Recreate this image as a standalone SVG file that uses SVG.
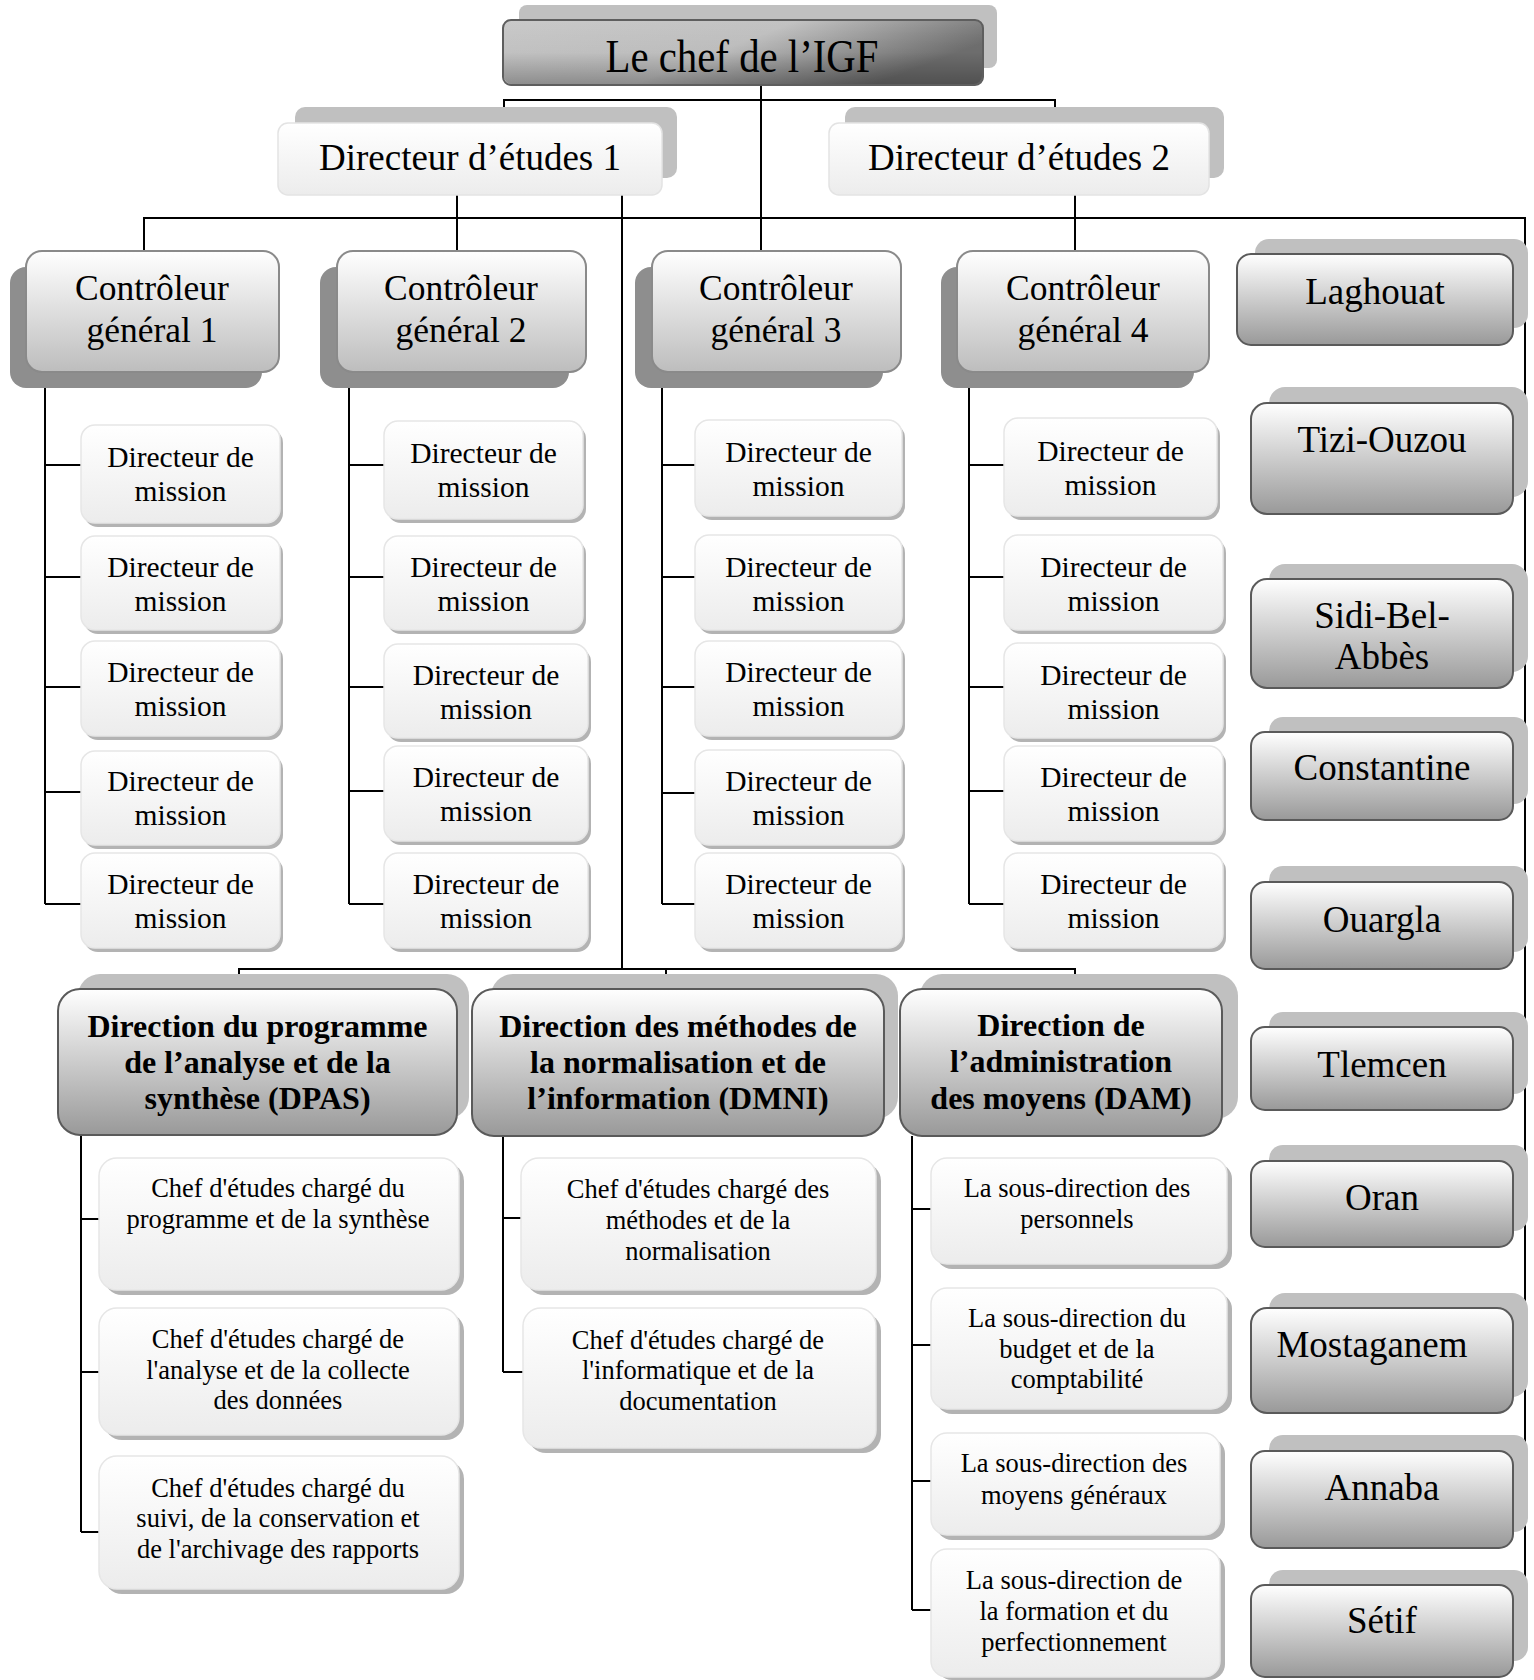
<svg xmlns="http://www.w3.org/2000/svg" width="1534" height="1680" viewBox="0 0 1534 1680">
<defs>
<linearGradient id="gTop" x1="0" y1="0" x2="1" y2="0.35">
<stop offset="0" stop-color="#c9c9c9"/><stop offset="0.55" stop-color="#c2c2c2"/><stop offset="1" stop-color="#707070"/>
</linearGradient>
<linearGradient id="gTopV" x1="0" y1="0" x2="0" y2="1">
<stop offset="0" stop-color="#000" stop-opacity="0"/><stop offset="0.5" stop-color="#000" stop-opacity="0.03"/><stop offset="1" stop-color="#000" stop-opacity="0.28"/>
</linearGradient>
<linearGradient id="gLight" x1="0" y1="0" x2="0" y2="1">
<stop offset="0" stop-color="#ffffff"/><stop offset="1" stop-color="#ececec"/>
</linearGradient>
<linearGradient id="gCG" x1="0" y1="0" x2="0" y2="1">
<stop offset="0" stop-color="#ffffff"/><stop offset="1" stop-color="#bdbdbd"/>
</linearGradient>
<linearGradient id="gDark" x1="0" y1="0" x2="0" y2="1">
<stop offset="0" stop-color="#ffffff"/><stop offset="1" stop-color="#999999"/>
</linearGradient>
<style>
.t{font-family:"Liberation Serif","Times New Roman",serif;fill:#000;text-anchor:middle}
.b{font-weight:bold}
.f47{font-size:47px}.f37{font-size:37px}.f36{font-size:35.5px}.f32{font-size:32px}.f29{font-size:29.5px}.f26{font-size:26.5px}
.top{fill:url(#gTop);stroke:#5e5e5e;stroke-width:2}
.topo{fill:url(#gTopV)}
.shL{fill:#c0c0c0}
.shD{fill:#8e8e8e}
.shS{fill:#b3b3b3}
.de{fill:url(#gLight);stroke:#e3e3e3;stroke-width:1.5}
.cg{fill:url(#gCG);stroke:#8a8a8a;stroke-width:2}
.dk{fill:url(#gDark);stroke:#5a5a5a;stroke-width:2}
.lt{fill:url(#gLight);stroke:#e6e6e6;stroke-width:1.5}
.c{fill:none;stroke:#000;stroke-width:2}
</style>
</defs>
<rect width="1534" height="1680" fill="#fff"/>

<g id="connectors">
<path class="c" d="M761 85V251M504 123V100H1055V123"/>
<path class="c" d="M457 195V251M622 195V969M1075 195V251"/>
<path class="c" d="M144 251V218H1525V1629"/>
<path class="c" d="M45 372V904M45 465H81M45 577H81M45 687H81M45 792H81M45 904H81"/>
<path class="c" d="M349 373V904M349 465H384M349 577H384M349 687H384M349 791H384M349 904H384"/>
<path class="c" d="M662 373V904M662 465H695M662 577H695M662 687H695M662 793H695M662 904H695"/>
<path class="c" d="M969 373V904M969 465H1004M969 577H1004M969 687H1004M969 791H1004M969 904H1004"/>
<path class="c" d="M239 989V969H1075V989M666 969V989"/>
<path class="c" d="M81 1135V1532M81 1219H99M81 1372H99M81 1532H99"/>
<path class="c" d="M503 1136V1372M503 1218H521M503 1372H523"/>
<path class="c" d="M912 1136V1610M912 1209H931M912 1345H931M912 1481H931M912 1610H931"/>
<path class="c" d="M1513 293H1525M1513 451H1525M1513 627H1525M1513 775H1525M1513 921H1525M1513 1065H1525M1513 1195H1525M1513 1357H1525M1513 1492H1525M1513 1629H1525"/>
</g>

<g id="chef">
<rect class="shL" x="519" y="5" width="478" height="63" rx="8"/>
<rect class="top" x="503" y="20" width="480" height="65" rx="8"/>
<rect class="topo" x="504" y="21" width="478" height="63" rx="8"/>
<text class="t f47" x="742" y="72" textLength="273" lengthAdjust="spacingAndGlyphs">Le chef de l’IGF</text>
</g>

<g id="dir-etudes-1">
<rect class="shL" x="295" y="107" width="382" height="71" rx="10"/>
<rect class="de" x="278" y="123" width="384" height="72" rx="10"/>
<text class="t f37" x="470" y="170">Directeur d’études 1</text>
</g>
<g id="dir-etudes-2">
<rect class="shL" x="845" y="107" width="379" height="71" rx="10"/>
<rect class="de" x="829" y="123" width="380" height="72" rx="10"/>
<text class="t f37" x="1019" y="170">Directeur d’études 2</text>
</g>

<g id="cg1">
<rect class="shD" x="10" y="267" width="252" height="121" rx="16"/>
<rect class="cg" x="26" y="251" width="253" height="121" rx="16"/>
<text class="t f36" x="152" y="300">Contrôleur</text><text class="t f36" x="152" y="342">général 1</text>
</g>
<g id="cg2">
<rect class="shD" x="320" y="267" width="249" height="121" rx="16"/>
<rect class="cg" x="337" y="251" width="249" height="121" rx="16"/>
<text class="t f36" x="461" y="300">Contrôleur</text><text class="t f36" x="461" y="342">général 2</text>
</g>
<g id="cg3">
<rect class="shD" x="635" y="267" width="248" height="121" rx="16"/>
<rect class="cg" x="652" y="251" width="249" height="121" rx="16"/>
<text class="t f36" x="776" y="300">Contrôleur</text><text class="t f36" x="776" y="342">général 3</text>
</g>
<g id="cg4">
<rect class="shD" x="941" y="267" width="253" height="121" rx="16"/>
<rect class="cg" x="957" y="251" width="252" height="121" rx="16"/>
<text class="t f36" x="1083" y="300">Contrôleur</text><text class="t f36" x="1083" y="342">général 4</text>
</g>

<!-- Directeurs de mission column 1 -->
<g id="dm1-1"><rect class="shS" x="84" y="429" width="199" height="98" rx="14"/><rect class="lt" x="81" y="425" width="199" height="98" rx="14"/><text class="t f29" x="180.5" y="467">Directeur de</text><text class="t f29" x="180.5" y="501">mission</text></g>
<g id="dm1-2"><rect class="shS" x="84" y="540" width="199" height="94" rx="14"/><rect class="lt" x="81" y="536" width="199" height="94" rx="14"/><text class="t f29" x="180.5" y="577">Directeur de</text><text class="t f29" x="180.5" y="611">mission</text></g>
<g id="dm1-3"><rect class="shS" x="84" y="645" width="199" height="95" rx="14"/><rect class="lt" x="81" y="641" width="199" height="95" rx="14"/><text class="t f29" x="180.5" y="682">Directeur de</text><text class="t f29" x="180.5" y="716">mission</text></g>
<g id="dm1-4"><rect class="shS" x="84" y="755" width="199" height="94" rx="14"/><rect class="lt" x="81" y="751" width="199" height="94" rx="14"/><text class="t f29" x="180.5" y="791">Directeur de</text><text class="t f29" x="180.5" y="825">mission</text></g>
<g id="dm1-5"><rect class="shS" x="84" y="857" width="199" height="95" rx="14"/><rect class="lt" x="81" y="853" width="199" height="95" rx="14"/><text class="t f29" x="180.5" y="894">Directeur de</text><text class="t f29" x="180.5" y="928">mission</text></g>

<!-- column 2 -->
<g id="dm2-1"><rect class="shS" x="387" y="425" width="199" height="98" rx="14"/><rect class="lt" x="384" y="421" width="199" height="98" rx="14"/><text class="t f29" x="483.5" y="463">Directeur de</text><text class="t f29" x="483.5" y="497">mission</text></g>
<g id="dm2-2"><rect class="shS" x="387" y="540" width="199" height="94" rx="14"/><rect class="lt" x="384" y="536" width="199" height="94" rx="14"/><text class="t f29" x="483.5" y="577">Directeur de</text><text class="t f29" x="483.5" y="611">mission</text></g>
<g id="dm2-3"><rect class="shS" x="387" y="648" width="204" height="94" rx="14"/><rect class="lt" x="384" y="644" width="204" height="94" rx="14"/><text class="t f29" x="486" y="685">Directeur de</text><text class="t f29" x="486" y="719">mission</text></g>
<g id="dm2-4"><rect class="shS" x="387" y="750" width="204" height="95" rx="14"/><rect class="lt" x="384" y="746" width="204" height="95" rx="14"/><text class="t f29" x="486" y="787">Directeur de</text><text class="t f29" x="486" y="821">mission</text></g>
<g id="dm2-5"><rect class="shS" x="387" y="857" width="204" height="95" rx="14"/><rect class="lt" x="384" y="853" width="204" height="95" rx="14"/><text class="t f29" x="486" y="894">Directeur de</text><text class="t f29" x="486" y="928">mission</text></g>

<!-- column 3 -->
<g id="dm3-1"><rect class="shS" x="698" y="424" width="207" height="96" rx="14"/><rect class="lt" x="695" y="420" width="207" height="96" rx="14"/><text class="t f29" x="798.5" y="462">Directeur de</text><text class="t f29" x="798.5" y="496">mission</text></g>
<g id="dm3-2"><rect class="shS" x="698" y="539" width="207" height="95" rx="14"/><rect class="lt" x="695" y="535" width="207" height="95" rx="14"/><text class="t f29" x="798.5" y="577">Directeur de</text><text class="t f29" x="798.5" y="611">mission</text></g>
<g id="dm3-3"><rect class="shS" x="698" y="645" width="207" height="95" rx="14"/><rect class="lt" x="695" y="641" width="207" height="95" rx="14"/><text class="t f29" x="798.5" y="682">Directeur de</text><text class="t f29" x="798.5" y="716">mission</text></g>
<g id="dm3-4"><rect class="shS" x="698" y="754" width="207" height="95" rx="14"/><rect class="lt" x="695" y="750" width="207" height="95" rx="14"/><text class="t f29" x="798.5" y="791">Directeur de</text><text class="t f29" x="798.5" y="825">mission</text></g>
<g id="dm3-5"><rect class="shS" x="698" y="857" width="207" height="95" rx="14"/><rect class="lt" x="695" y="853" width="207" height="95" rx="14"/><text class="t f29" x="798.5" y="894">Directeur de</text><text class="t f29" x="798.5" y="928">mission</text></g>

<!-- column 4 -->
<g id="dm4-1"><rect class="shS" x="1007" y="422" width="213" height="98" rx="14"/><rect class="lt" x="1004" y="418" width="213" height="98" rx="14"/><text class="t f29" x="1110.5" y="461">Directeur de</text><text class="t f29" x="1110.5" y="495">mission</text></g>
<g id="dm4-2"><rect class="shS" x="1007" y="539" width="219" height="95" rx="14"/><rect class="lt" x="1004" y="535" width="219" height="95" rx="14"/><text class="t f29" x="1113.5" y="577">Directeur de</text><text class="t f29" x="1113.5" y="611">mission</text></g>
<g id="dm4-3"><rect class="shS" x="1007" y="647" width="219" height="95" rx="14"/><rect class="lt" x="1004" y="643" width="219" height="95" rx="14"/><text class="t f29" x="1113.5" y="685">Directeur de</text><text class="t f29" x="1113.5" y="719">mission</text></g>
<g id="dm4-4"><rect class="shS" x="1007" y="750" width="219" height="95" rx="14"/><rect class="lt" x="1004" y="746" width="219" height="95" rx="14"/><text class="t f29" x="1113.5" y="787">Directeur de</text><text class="t f29" x="1113.5" y="821">mission</text></g>
<g id="dm4-5"><rect class="shS" x="1007" y="857" width="219" height="95" rx="14"/><rect class="lt" x="1004" y="853" width="219" height="95" rx="14"/><text class="t f29" x="1113.5" y="894">Directeur de</text><text class="t f29" x="1113.5" y="928">mission</text></g>

<!-- Cities -->
<g id="laghouat"><rect class="shL" x="1255" y="239" width="273" height="89" rx="14"/><rect class="dk" x="1237" y="254" width="276" height="91" rx="14"/><text class="t f37" x="1375" y="304">Laghouat</text></g>
<g id="tizi-ouzou"><rect class="shL" x="1269" y="387" width="259" height="110" rx="16"/><rect class="dk" x="1251" y="403" width="262" height="111" rx="16"/><text class="t f37" x="1382" y="452">Tizi-Ouzou</text></g>
<g id="sidi-bel-abbes"><rect class="shL" x="1269" y="564" width="259" height="108" rx="16"/><rect class="dk" x="1251" y="579" width="262" height="109" rx="16"/><text class="t f37" x="1382" y="628">Sidi-Bel-</text><text class="t f37" x="1382" y="669">Abbès</text></g>
<g id="constantine"><rect class="shL" x="1269" y="717" width="259" height="87" rx="14"/><rect class="dk" x="1251" y="732" width="262" height="88" rx="14"/><text class="t f37" x="1382" y="780">Constantine</text></g>
<g id="ouargla"><rect class="shL" x="1269" y="866" width="259" height="86" rx="14"/><rect class="dk" x="1251" y="882" width="262" height="87" rx="14"/><text class="t f37" x="1382" y="932">Ouargla</text></g>
<g id="tlemcen"><rect class="shL" x="1269" y="1012" width="259" height="82" rx="14"/><rect class="dk" x="1251" y="1027" width="262" height="83" rx="14"/><text class="t f37" x="1382" y="1077">Tlemcen</text></g>
<g id="oran"><rect class="shL" x="1269" y="1145" width="259" height="86" rx="14"/><rect class="dk" x="1251" y="1161" width="262" height="86" rx="14"/><text class="t f37" x="1382" y="1210">Oran</text></g>
<g id="mostaganem"><rect class="shL" x="1269" y="1293" width="259" height="104" rx="16"/><rect class="dk" x="1251" y="1308" width="262" height="105" rx="16"/><text class="t f37" x="1372" y="1357">Mostaganem</text></g>
<g id="annaba"><rect class="shL" x="1269" y="1435" width="259" height="97" rx="14"/><rect class="dk" x="1251" y="1451" width="262" height="97" rx="14"/><text class="t f37" x="1382" y="1500">Annaba</text></g>
<g id="setif"><rect class="shL" x="1269" y="1570" width="259" height="91" rx="14"/><rect class="dk" x="1251" y="1585" width="262" height="92" rx="14"/><text class="t f37" x="1382" y="1633">Sétif</text></g>

<!-- Directions -->
<g id="dpas"><rect class="shL" x="78" y="974" width="391" height="145" rx="22"/><rect class="dk" x="58" y="989" width="399" height="146" rx="22"/>
<text class="t b f32" x="257.5" y="1037">Direction du programme</text><text class="t b f32" x="257.5" y="1073">de l’analyse et de la</text><text class="t b f32" x="257.5" y="1109">synthèse (DPAS)</text></g>
<g id="dmni"><rect class="shL" x="491" y="974" width="407" height="145" rx="22"/><rect class="dk" x="472" y="989" width="412" height="147" rx="22"/>
<text class="t b f32" x="678" y="1037">Direction des méthodes de</text><text class="t b f32" x="678" y="1073">la normalisation et de</text><text class="t b f32" x="678" y="1109">l’information (DMNI)</text></g>
<g id="dam"><rect class="shL" x="920" y="974" width="318" height="145" rx="22"/><rect class="dk" x="900" y="989" width="322" height="147" rx="22"/>
<text class="t b f32" x="1061" y="1036">Direction de</text><text class="t b f32" x="1061" y="1072">l’administration</text><text class="t b f32" x="1061" y="1109">des moyens (DAM)</text></g>

<!-- DPAS subs -->
<g id="dpas-1"><rect class="shS" x="104" y="1163" width="360" height="132" rx="18"/><rect class="lt" x="99" y="1158" width="360" height="132" rx="18"/><text class="t f26" x="278" y="1197">Chef d'études chargé du</text><text class="t f26" x="278" y="1228">programme et de la synthèse</text></g>
<g id="dpas-2"><rect class="shS" x="104" y="1313" width="360" height="127" rx="18"/><rect class="lt" x="99" y="1308" width="360" height="127" rx="18"/><text class="t f26" x="278" y="1348">Chef d'études chargé de</text><text class="t f26" x="278" y="1379">l'analyse et de la collecte</text><text class="t f26" x="278" y="1409">des données</text></g>
<g id="dpas-3"><rect class="shS" x="104" y="1461" width="360" height="133" rx="18"/><rect class="lt" x="99" y="1456" width="360" height="133" rx="18"/><text class="t f26" x="278" y="1497">Chef d'études chargé du</text><text class="t f26" x="278" y="1527">suivi, de la conservation et</text><text class="t f26" x="278" y="1558">de l'archivage des rapports</text></g>

<!-- DMNI subs -->
<g id="dmni-1"><rect class="shS" x="526" y="1163" width="355" height="132" rx="18"/><rect class="lt" x="521" y="1158" width="355" height="132" rx="18"/><text class="t f26" x="698" y="1198">Chef d'études chargé des</text><text class="t f26" x="698" y="1229">méthodes et de la</text><text class="t f26" x="698" y="1260">normalisation</text></g>
<g id="dmni-2"><rect class="shS" x="528" y="1313" width="353" height="140" rx="18"/><rect class="lt" x="523" y="1308" width="353" height="140" rx="18"/><text class="t f26" x="698" y="1349">Chef d'études chargé de</text><text class="t f26" x="698" y="1379">l'informatique et de la</text><text class="t f26" x="698" y="1410">documentation</text></g>

<!-- DAM subs -->
<g id="dam-1"><rect class="shS" x="936" y="1163" width="296" height="106" rx="16"/><rect class="lt" x="931" y="1158" width="296" height="106" rx="16"/><text class="t f26" x="1077" y="1197">La sous-direction des</text><text class="t f26" x="1077" y="1228">personnels</text></g>
<g id="dam-2"><rect class="shS" x="936" y="1293" width="296" height="121" rx="16"/><rect class="lt" x="931" y="1288" width="296" height="121" rx="16"/><text class="t f26" x="1077" y="1327">La sous-direction du</text><text class="t f26" x="1077" y="1358">budget et de la</text><text class="t f26" x="1077" y="1388">comptabilité</text></g>
<g id="dam-3"><rect class="shS" x="936" y="1438" width="289" height="102" rx="16"/><rect class="lt" x="931" y="1433" width="289" height="102" rx="16"/><text class="t f26" x="1074" y="1472">La sous-direction des</text><text class="t f26" x="1074" y="1504">moyens généraux</text></g>
<g id="dam-4"><rect class="shS" x="936" y="1554" width="289" height="126" rx="16"/><rect class="lt" x="931" y="1549" width="289" height="128" rx="16"/><text class="t f26" x="1074" y="1589">La sous-direction de</text><text class="t f26" x="1074" y="1620">la formation et du</text><text class="t f26" x="1074" y="1651">perfectionnement</text></g>
</svg>
